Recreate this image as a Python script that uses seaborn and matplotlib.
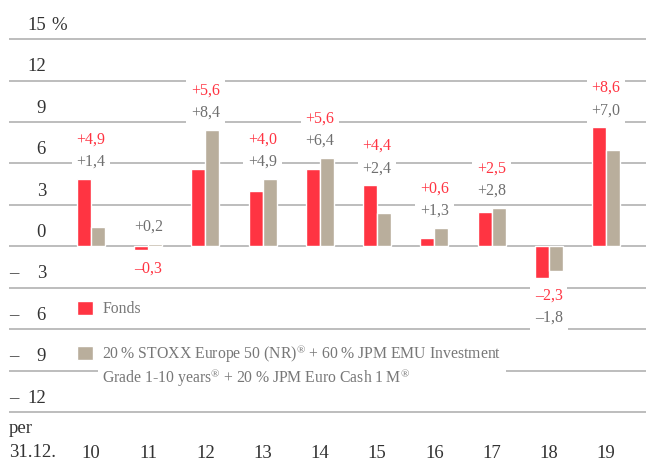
import numpy as np
import pandas as pd
import matplotlib
matplotlib.use("Agg")
import matplotlib.pyplot as plt
import seaborn as sns

# data ---------------------------------------------------------------
years = ["10", "11", "12", "13", "14", "15", "16", "17", "18", "19"]
fonds = [4.9, -0.3, 5.6, 4.0, 5.6, 4.4, 0.6, 2.5, -2.3, 8.6]
bench = [1.4, 0.2, 8.4, 4.9, 6.4, 2.4, 1.3, 2.8, -1.8, 7.0]
fonds_name = "Fonds"
bench_name = ("20\u2009% STOXX Europe 50 (NR)$^{\u00ae}$ + 60\u2009% JPM EMU Investment\n"
              "Grade 1-10 years$^{\u00ae}$ + 20\u2009% JPM Euro Cash 1\u2009M$^{\u00ae}$")
y_ticks = [-12, -9, -6, -3, 0, 3, 6, 9, 12, 15]

red = "#ff3442"
beige = "#b9ae9c"
grid_col = "#b8b8b8"
dark = "#333333"
gray_txt = "#6f6f6f"

sns.set_style("white")
plt.rcParams["font.family"] = ["Liberation Serif", "DejaVu Serif"]
plt.rcParams["mathtext.fontset"] = "custom"
plt.rcParams["mathtext.rm"] = "Liberation Serif"
plt.rcParams["mathtext.default"] = "regular"

df = pd.DataFrame({
    "year": years * 2,
    "value": fonds + bench,
    "series": [fonds_name] * len(years) + [bench_name] * len(years),
})

fig = plt.figure(figsize=(6.46, 4.62), dpi=100)
ax = fig.add_axes([9 / 646, 0.1052, 1 - 9 / 646, 1 - 0.1052])

sns.barplot(data=df, x="year", y="value", hue="series",
            palette=[red, beige], width=0.49, gap=0, saturation=1,
            ax=ax, zorder=3)

ax.set_xlim(-1.434, 9.70)
ax.set_ylim(-12.1, 17.83)
ax.set_yticks(y_ticks)
ax.set_yticklabels([])
ax.yaxis.grid(True, color=grid_col, linewidth=1.3)
ax.xaxis.grid(False)
ax.set_axisbelow(True)
for s in ax.spines.values():
    s.set_visible(False)
ax.set_xlabel("")
ax.set_ylabel("")
ax.tick_params(axis="y", length=0)
ax.tick_params(axis="x", length=0, pad=23, labelsize=13.5, labelcolor=dark)

# y axis labels, sitting above their gridlines
ytr = ax.get_yaxis_transform()
for v in y_ticks:
    num = str(abs(v))
    ax.text(0.058, v + 1.0, num, transform=ytr, ha="right", va="center",
            fontsize=13.5, color=dark)
    if v < 0:
        ax.text(0.0, v + 1.0, "\u2013", transform=ytr, ha="left", va="center",
                fontsize=13.5, color=dark)
ax.text(0.066, 15 + 1.0, "%", transform=ytr, ha="left", va="center",
        fontsize=13.5, color=dark)

ax.text(0.0, -13.2, "per", transform=ytr, ha="left", va="center",
        fontsize=13.5, color=dark)
ax.text(0.0, -14.95, "31.12.", transform=ytr, ha="left", va="center",
        fontsize=13.5, color=dark)


def fmt(v):
    s = f"{abs(v):.1f}".replace(".", ",")
    return ("+" if v >= 0 else "\u2013") + s


box = dict(facecolor="white", edgecolor="none", pad=3.5)
for i in range(len(years)):
    f, b = fonds[i], bench[i]
    pos = [(b, gray_txt), (f, red)]
    neg = [(f, red), (b, gray_txt)]
    top = max(f, b, 0)
    bot = min(f, b, 0)
    offs = [1.25, 2.85]
    k = 0
    for v, c in pos:
        if v >= 0:
            ax.text(i, top + offs[k], fmt(v), ha="center", va="center",
                    fontsize=11.5, color=c, bbox=box, zorder=4)
            k += 1
    k = 0
    for v, c in neg:
        if v < 0:
            ax.text(i, bot - offs[k] - 0.05, fmt(v), ha="center", va="center",
                    fontsize=11.5, color=c, bbox=box, zorder=4)
            k += 1

# legend
handles, labels = ax.get_legend_handles_labels()
leg = ax.legend(handles, labels, loc="upper left",
                bbox_to_anchor=(77 / 646, 1 - 301 / 462),
                bbox_transform=fig.transFigure, frameon=False,
                fontsize=11.3, borderpad=0, borderaxespad=0,
                handlelength=1.02, handleheight=1.02, handletextpad=0.58,
                labelspacing=1.65)
for t in leg.get_texts():
    t.set_color("#777777")
t2 = leg.get_texts()[1]
t2.set_linespacing(1.12)
t2.set_bbox(dict(facecolor="white", edgecolor="none", pad=3))
# put the second square next to the first text line
h2 = leg.legend_handles[1]
h2.set_y(h2.get_y() + 10)

fig.savefig("out.png", dpi=100)
